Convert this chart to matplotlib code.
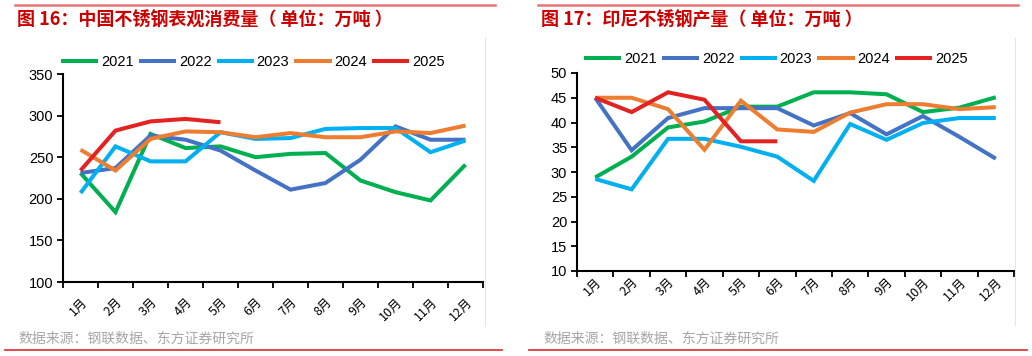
import matplotlib
matplotlib.use('Agg')
import matplotlib.pyplot as plt
from matplotlib.lines import Line2D
from matplotlib.transforms import ScaledTranslation

plt.rcParams['font.family'] = ['Liberation Sans', 'Noto Sans CJK SC', 'DejaVu Sans']
CJK = ['Noto Sans CJK SC', 'DejaVu Sans']

months = ['1月', '2月', '3月', '4月', '5月', '6月', '7月', '8月', '9月', '10月', '11月', '12月']
years = ['2021', '2022', '2023', '2024', '2025']
colors = ['#00B050', '#4472C4', '#00B0F0', '#ED7D31', '#E42222']

# 图16 中国不锈钢表观消费量（万吨）
cn_2021 = [231, 184, 278, 261, 263, 250, 254, 255, 222, 208, 198, 241]
cn_2022 = [231, 237, 276, 271, 258, 234, 211, 219, 247, 287, 271, 271]
cn_2023 = [207, 263, 245, 245, 280, 272, 273, 284, 285, 285, 256, 270]
cn_2024 = [259, 234, 272, 281, 280, 274, 279, 274, 274, 281, 279, 288]
cn_2025 = [234, 282, 293, 296, 292]

# 图17 印尼不锈钢产量（万吨）
id_2021 = [28.9, 33.1, 39.0, 40.2, 43.2, 43.2, 46.1, 46.1, 45.7, 42.1, 43.0, 45.1]
id_2022 = [45.0, 34.4, 40.9, 42.9, 42.9, 42.9, 39.4, 41.9, 37.6, 41.3, 37.1, 32.7]
id_2023 = [28.6, 26.5, 36.7, 36.7, 35.1, 33.1, 28.2, 39.7, 36.5, 39.9, 40.9, 40.9]
id_2024 = [45.0, 45.0, 42.7, 34.5, 44.4, 38.6, 38.1, 42.0, 43.7, 43.7, 42.7, 43.1]
id_2025 = [45.0, 42.1, 46.1, 44.6, 36.2, 36.2]

W, H = 1032, 356
fig = plt.figure(figsize=(W / 100, H / 100), dpi=100)


def fx(px):
    return px / W


def fy(py):
    return 1 - py / H


def panel(box, series, ylim, yticks, title, tx, lx0, lx1, srcx, redx, legy, legx, grayx, xpad):
    ax = fig.add_axes(box)
    x = list(range(len(months)))
    handles = []
    for vals, c, yr in zip(series, colors, years):
        ax.plot(x[:len(vals)], vals, color=c, lw=2.9, solid_capstyle='butt', solid_joinstyle='miter')
        handles.append(Line2D([], [], color=c, lw=2.9, solid_capstyle='butt'))
    ax.set_xlim(-0.5, 11.5)
    ax.set_ylim(*ylim)
    ax.set_yticks(yticks)
    ax.set_xticks([i - 0.5 for i in range(13)], minor=False)
    ax.set_xticklabels([])
    ax.set_xticks(x, minor=True)
    ax.set_xticklabels(months, minor=True, rotation=45, ha='right', va='top',
                       rotation_mode='anchor', fontsize=9, family=CJK)
    off = ScaledTranslation(-5 / 100, 0, fig.dpi_scale_trans)
    for lab in ax.get_xticklabels(minor=True):
        lab.set_transform(lab.get_transform() + off)
    ax.tick_params(axis='x', which='minor', length=0, pad=xpad)
    ax.tick_params(axis='x', which='major', length=4, width=1.3, direction='out')
    ax.tick_params(axis='y', length=4, width=1.3, direction='out', labelsize=10.5, pad=3)
    for s in ['top', 'right']:
        ax.spines[s].set_visible(False)
    for s in ['left', 'bottom']:
        ax.spines[s].set_linewidth(1.5)
        ax.spines[s].set_color('black')
    fig.legend(handles, years, loc='center', bbox_to_anchor=(fx(legx), fy(legy)), ncol=5,
               frameon=False, fontsize=10.5, handlelength=2.55, handletextpad=0.2,
               columnspacing=0.35, borderaxespad=0)
    # decorations
    fig.add_artist(Line2D([fx(lx0), fx(lx1)], [fy(5), fy(5)], color='#E87575', lw=1.8))
    fig.text(fx(tx), fy(20), title, color='#CC0000', fontsize=13, fontweight='bold',
             family=CJK, va='center', ha='left')
    fig.text(fx(srcx), fy(339), '数据来源：钢联数据、东方证券研究所', color='#A6A6A6',
             fontsize=10, family=CJK, va='center', ha='left')
    fig.add_artist(Line2D([fx(redx[0]), fx(redx[1])], [fy(350), fy(350)], color='#E23B3B', lw=1.3))
    fig.add_artist(Line2D([fx(grayx), fx(grayx)], [fy(38), fy(325)], color='#E6E6E6', lw=0.8))
    return ax


panel([fx(63), fy(282), fx(483 - 63), (282 - 74) / H],
      [cn_2021, cn_2022, cn_2023, cn_2024, cn_2025], (100, 350), range(100, 351, 50),
      '图 16：中国不锈钢表观消费量（ 单位：万吨 ）', 17, 15, 495, 18, (5, 502), 62, 253, 485, 10)

panel([fx(577), fy(271), fx(1014 - 577), (271 - 73) / H],
      [id_2021, id_2022, id_2023, id_2024, id_2025], (10, 50), range(10, 51, 5),
      '图 17：印尼不锈钢产量（ 单位：万吨 ）', 541, 538, 1018, 543, (529, 1027), 59, 776, 1015, 3)

fig.savefig('out.png', dpi=100)
